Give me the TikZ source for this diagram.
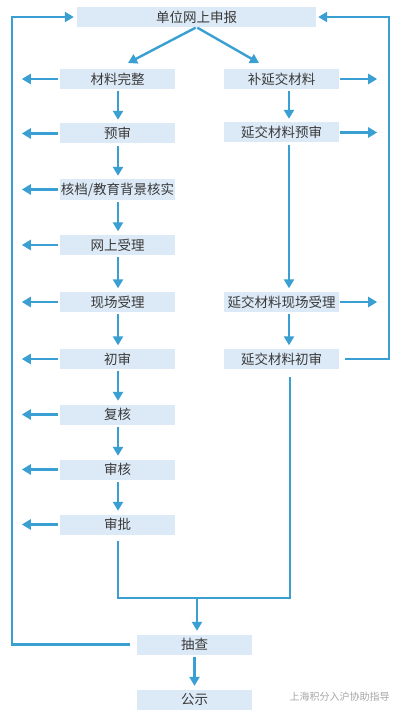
\documentclass[tikz,border=0pt]{standalone}
\usepackage{fontspec}
\newfontfamily\cjk{Noto Sans CJK SC}
\usetikzlibrary{arrows.meta}
\definecolor{boxfill}{HTML}{DCE9F6}
\definecolor{lineblue}{HTML}{3A9FD2}
\definecolor{txt}{HTML}{3A3A3A}
\tikzset{
  box/.style={fill=boxfill, minimum width=115pt, minimum height=20pt, inner sep=0pt,
    font=\cjk\fontsize{13.5}{15}\selectfont, text=txt},
  arr/.style={draw=lineblue, line width=2.4pt, -{Triangle[length=9pt,width=10pt]}},
  ln/.style={draw=lineblue, line width=2.4pt},
  down/.style={arr, shorten <=2pt, shorten >=3.5pt},
}
\begin{document}
\begin{tikzpicture}[x=1pt,y=-1pt]
\useasboundingbox[fill=white] (0,0) rectangle (400,714);
% nodes
\node[box, minimum width=239pt] (top) at (196.5,17) {单位网上申报};
\node[box] (l1) at (117.5,79) {材料完整};
\node[box] (l2) at (117.5,133.5) {预审};
\node[box] (l3) at (117.5,189.5) {核档/教育背景核实};
\node[box] (l4) at (117.5,245) {网上受理};
\node[box] (l5) at (117.5,302) {现场受理};
\node[box] (l6) at (117.5,359) {初审};
\node[box] (l7) at (117.5,414.5) {复核};
\node[box] (l8) at (117.5,469.5) {审核};
\node[box] (l9) at (117.5,524.5) {审批};
\node[box] (r1) at (281.5,79) {补延交材料};
\node[box] (r2) at (281.5,132.5) {延交材料预审};
\node[box] (r3) at (281.5,302) {延交材料现场受理};
\node[box] (r4) at (281.5,359) {延交材料初审};
\node[box] (cc) at (194.5,644.5) {抽查};
\node[box] (gs) at (194.5,699.5) {公示};
\node[font=\cjk\fontsize{10}{11}\selectfont, text=black!35, anchor=west] (wm) at (286,697) {上海积分入沪协助指导};
% coordinates
\coordinate (tl) at (12,17);
\coordinate (bl) at (12,644.5);
\coordinate (tr) at (389,17);
\coordinate (br) at (389,359);
\coordinate (mL) at (118,598);
\coordinate (mR) at (290,598);
\coordinate (mC) at (197,598);
% top split
\draw[arr, shorten <=1pt] (top.south) -- (128,63);
\draw[arr, shorten <=1pt] (top.south) -- (259,63);
% left column
\foreach \a/\b in {l1/l2,l2/l3,l3/l4,l4/l5,l5/l6,l6/l7,l7/l8,l8/l9}
  \draw[down] (\a.south -| 118,0) -- (\b.north -| 118,0);
\foreach \a in {l1,l2,l3,l4,l5,l6,l7,l8,l9}
  \draw[arr, shorten <=2pt] (\a.west) -- ++(-38,0);
% right column
\draw[down] (r1.south -| 289,0) -- (r2.north -| 289,0);
\draw[down] (r2.south -| 289,0) -- (r3.north -| 289,0);
\draw[down] (r3.south -| 289,0) -- (r4.north -| 289,0);
\foreach \a in {r1,r2,r3}
  \draw[arr, shorten <=1pt] (\a.east) -- ++(38,0);
% feedback right
\draw[arr, shorten >=2pt] ([xshift=6pt]r4.east) -- (br) -- (tr) -- (top.east);
% merge
\draw[ln] ([yshift=-6pt]l9.south -| mL) -- (mL) -- (mR) -- ([yshift=-8pt]r4.south -| mR);
\draw[arr, shorten >=3.5pt] (mC) -- (cc.north -| mC);
% feedback left
\draw[arr, shorten >=3pt] ([xshift=-7pt]cc.west) -- (bl) -- (tl) -- (top.west);
\draw[down] (cc.south) -- (gs.north);
\end{tikzpicture}
\end{document}
